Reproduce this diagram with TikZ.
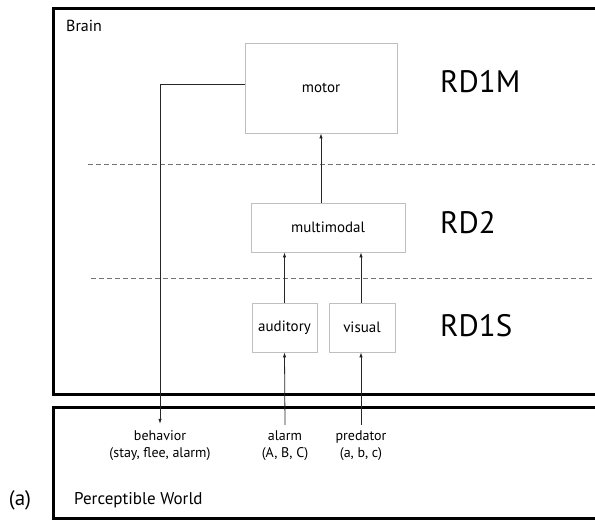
\documentclass[tikz,border=0pt]{standalone}
\usepackage{fontspec}
\setmainfont{PT Sans}
\usetikzlibrary{arrows.meta}
\tikzset{
  frame/.style={line width=3pt, black},
  box/.style={draw=black!25, line width=0.8pt, inner sep=0pt, font=\fontsize{15}{18}\selectfont, text=black},
  lab/.style={font=\fontsize{14}{17}\selectfont, text=black, inner sep=0pt},
  big/.style={font=\fontsize{31}{36}\selectfont, text=black, anchor=west, inner sep=0pt},
  arr/.style={-{Latex[length=5pt,width=3.5pt]}, line width=0.8pt, black!85},
  dsh/.style={dashed, dash pattern=on 5pt off 3pt, line width=0.7pt, black!55},
}
\begin{document}
\begin{tikzpicture}[x=1pt,y=-1pt]
\useasboundingbox (0,0) rectangle (595,522);
% frames
\draw[frame] (598,8) -- (53,8) -- (53,394) -- (598,394);
\draw[frame] (598,407) -- (53,407) -- (53,518) -- (598,518);
\node[lab, anchor=west, font=\fontsize{16}{19}\selectfont] (brain) at (66,26) {Brain};
\node[lab, anchor=west, font=\fontsize{17}{20}\selectfont] (world) at (74,500) {Perceptible World};
\node[lab, font=\fontsize{21}{24}\selectfont] (alab) at (20,500) {(a)};
% dashed level separators
\coordinate (d1a) at (88,164); \coordinate (d1b) at (596,164);
\coordinate (d2a) at (91,278); \coordinate (d2b) at (596,278);
\draw[dsh] (d1a) -- (d1b);
\draw[dsh] (d2a) -- (d2b);
% boxes
\node[box, minimum width=152pt, minimum height=90pt] (motor) at (321,88) {motor};
\node[box, minimum width=154pt, minimum height=49pt] (multi) at (328,227.5) {multimodal};
\node[box, minimum width=65pt, minimum height=49pt] (aud) at (284.5,327.5) {auditory};
\node[box, minimum width=66pt, minimum height=49pt] (vis) at (362,327.5) {visual};
% level labels
\node[big] (rd1m) at (440,82) {RD1M};
\node[big] (rd2) at (440,223) {RD2};
\node[big] (rd1s) at (440,326) {RD1S};
% world labels
\node[lab, align=center] (beh) at (160,446) {behavior\\(stay, flee, alarm)};
\node[lab, align=center] (alarm) at (285,446) {alarm\\(A, B, C)};
\node[lab, align=center] (pred) at (361,446) {predator\\(a, b, c)};
% connectors
\draw[arr] (multi.north -| motor.south) -- (motor.south);
\draw[arr] (aud.north) -- (aud.north |- multi.south);
\draw[arr] ([xshift=-1pt]vis.north) -- ([xshift=-1pt]vis.north |- multi.south);
\draw[arr] ([yshift=6pt]alarm.north) -- (aud.south);
\draw[arr] ([yshift=6pt]pred.north) -- ([xshift=-1pt]vis.south);
\draw[arr] ([yshift=4pt]motor.west) -| ([yshift=7pt]beh.north);
\end{tikzpicture}
\end{document}
